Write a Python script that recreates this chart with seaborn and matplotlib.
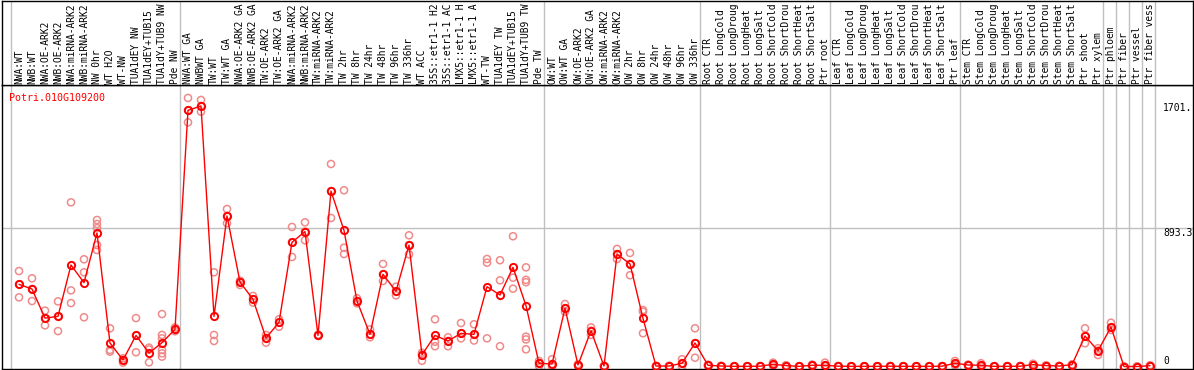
import numpy as np
import pandas as pd
import matplotlib
matplotlib.use("Agg")
import matplotlib.pyplot as plt
import seaborn as sns

# ---------------- data ----------------
gene = "Potri.010G109200"

# sample labels as shown (the header truncates long names)
labels = [
    "NWA:WT", "NWB:WT", "NWA:OE-ARK2", "NWB:OE-ARK2", "NWA:miRNA-ARK2", "NWB:miRNA-ARK2",
    "NW 0hr", "WT H2O", "WT-NW", "TUA1dEY NW", "TUA1dEY+TUB15", "TUA1dY+TUB9 NW", "Pde NW",
    "NWA:WT GA", "NWBWT GA", "TW:WT", "TW:WT GA", "NWA:OE-ARK2 GA", "NWB:OE-ARK2 GA",
    "TW:OE-ARK2", "TW:OE-ARK2 GA", "NWA:miRNA-ARK2", "NWB:miRNA-ARK2", "TW:miRNA-ARK2",
    "TW:miRNA-ARK2", "TW 2hr", "TW 8hr", "TW 24hr", "TW 48hr", "TW 96hr", "TW 336hr",
    "WT ACC", "35S::etr1-1 H2", "35S::etr1-1 AC", "LMX5::etr1-1 H", "LMX5::etr1-1 A",
    "WT-TW", "TUA1dEY TW", "TUA1dEY+TUB15", "TUA1dY+TUB9 TW", "Pde TW",
    "OW:WT", "OW:WT GA", "OW:OE-ARK2", "OW:OE-ARK2 GA", "OW:miRNA-ARK2", "OW:miRNA-ARK2",
    "OW 2hr", "OW 8hr", "OW 24hr", "OW 48hr", "OW 96hr", "OW 336hr",
    "Root CTR", "Root LongCold", "Root LongDroug", "Root LongHeat", "Root LongSalt",
    "Root ShortCold", "Root ShortDrou", "Root ShortHeat", "Root ShortSalt", "Ptr root",
    "Leaf CTR", "Leaf LongCold", "Leaf LongDroug", "Leaf LongHeat", "Leaf LongSalt",
    "Leaf ShortCold", "Leaf ShortDrou", "Leaf ShortHeat", "Leaf ShortSalt", "Ptr leaf",
    "Stem CTR", "Stem LongCold", "Stem LongDroug", "Stem LongHeat", "Stem LongSalt",
    "Stem ShortCold", "Stem ShortDrou", "Stem ShortHeat", "Stem ShortSalt", "Ptr shoot",
    "Ptr xylem", "Ptr phloem", "Ptr fiber", "Ptr vessel", "Ptr fiber vess",
]

means = [
    531, 501, 313, 324, 656, 542, 863, 152, 42, 201, 87, 154, 240,
    1656, 1684, 324, 973, 546, 434, 184, 285, 803, 872, 201, 1134, 880, 423, 208,
    596, 486, 785, 76, 201, 165, 214, 208, 516, 462, 641, 393, 21,
    16, 376, 10, 231, 3, 727, 663, 311, 3, 3, 21, 152,
    8, 3, 1, 1, 2, 14, 6, 1, 8, 8,
    2, 1, 1, 1, 2, 1, 1, 1, 2, 21,
    10, 8, 1, 1, 2, 12, 6, 3, 12, 197,
    102, 255, 0, 0, 5,
]

replicates = [
    [617, 531, 447], [570, 501, 423], [361, 313, 266], [421, 324, 229],
    [1061, 492, 410], [693, 609, 318], [947, 921, 895, 785, 753], [247, 107, 96],
    [53, 42, 25], [313, 201, 92], [122, 110, 27], [339, 204, 182, 107, 85, 64],
    [253, 240, 228],
    [1736, 1656, 1578], [1723, 1684, 1647], [609, 204, 165], [1018, 973, 926],
    [555, 546, 527], [456, 434, 413], [204, 184, 154], [305, 285, 257],
    [902, 803, 708], [932, 872, 816], [205, 201, 198], [1309, 1134, 960],
    [1139, 768, 727], [441, 423, 408], [240, 208, 189], [663, 596, 553],
    [516, 486, 460], [848, 785, 725], [89, 76, 37], [305, 160, 131],
    [189, 165, 131], [281, 214, 182], [273, 208, 168], [695, 671, 182],
    [687, 557, 131], [842, 574, 503], [641, 560, 545, 193, 175, 111], [36, 21, 3],
    [47, 16, 0], [404, 376, 354], [15, 10, 5], [253, 231, 204], [5, 3, 0],
    [760, 727, 695], [734, 663, 590], [365, 354, 215], [5, 3, 0], [5, 3, 0],
    [47, 21, 0], [247, 152, 57],
    [12, 8, 4], [5, 3, 1], [2, 1, 0], [2, 1, 0], [3, 2, 1], [25, 14, 5],
    [8, 6, 4], [2, 1, 0], [12, 8, 4], [25, 8, 2],
    [3, 2, 1], [2, 1, 0], [2, 1, 0], [2, 1, 0], [3, 2, 1], [2, 1, 0],
    [2, 1, 0], [2, 1, 0], [3, 2, 1], [36, 21, 8],
    [12, 10, 8], [21, 8, 0], [2, 1, 0], [2, 1, 0], [3, 2, 1], [18, 12, 6],
    [8, 6, 4], [3, 3, 3], [14, 12, 10], [247, 197, 150],
    [118, 102, 74], [283, 253, 236], [0, 0, 0], [0, 0, 0], [8, 5, 2],
]

group_starts = [0, 13, 41, 53, 63, 73, 84, 85, 86, 87, 88]
ref_values = [1701.9, 893.3, 0]
ref_texts = ["1701.", "893.3", "0"]

# ---------------- frames ----------------
idx = np.arange(len(labels))
mean_df = pd.DataFrame({"pos": idx, "value": means})
rep_df = pd.DataFrame(
    [(i, v) for i, reps in enumerate(replicates) for v in reps],
    columns=["pos", "value"],
)

# ---------------- figure ----------------
sns.set_theme(style="white")
plt.rcParams["font.family"] = ["DejaVu Sans Mono", "DejaVu Sans"]

W, H = 1194, 370
fig = plt.figure(figsize=(W / 100, H / 100), dpi=100)

left_px, right_px = 1.5, 1193.0
top_main, bot_main = 85.0, 368.5
x0_px, dx_px = 19.0, 13.0
zero_px, scale = 366.5, 0.1547

xlim = ((left_px - x0_px) / dx_px, (right_px - x0_px) / dx_px)

ax = fig.add_axes([left_px / W, (H - bot_main) / H,
                   (right_px - left_px) / W, (bot_main - top_main) / H])
hax = fig.add_axes([left_px / W, (H - top_main) / H,
                    (right_px - left_px) / W, (top_main - 0.5) / H])

ax.set_xlim(*xlim)
ax.set_ylim((zero_px - bot_main) / scale, (zero_px - top_main) / scale)
hax.set_xlim(*xlim)
hax.set_ylim(0, top_main - 0.5)

for a in (ax, hax):
    a.set_xticks([])
    a.set_yticks([])
    a.set_xlabel("")
    a.set_ylabel("")
    for s in a.spines.values():
        s.set_color("black")
        s.set_linewidth(1.0)
        s.set_visible(True)

# separators
for g in group_starts:
    xs = g - 8 / 13
    ax.axvline(xs, color="#c0c0c0", lw=1.0, zorder=0)
    hax.axvline(xs, color="#c0c0c0", lw=1.0, zorder=0)

ax.axhline(893.3, color="#c0c0c0", lw=1.0, zorder=0)

# replicates
sns.scatterplot(data=rep_df, x="pos", y="value", ax=ax, marker="o",
                s=26, facecolor="none", edgecolor="#f08a8a", linewidth=1.1,
                legend=False, zorder=2)
# means
sns.lineplot(data=mean_df, x="pos", y="value", ax=ax, color="#ff0000",
             linewidth=1.0, marker="o", markersize=5.2, markerfacecolor="none",
             markeredgecolor="#ff0000", markeredgewidth=1.4, legend=False,
             zorder=3)
ax.set_xlabel("")
ax.set_ylabel("")

# sample labels
for i, lab in enumerate(labels):
    hax.text(i, 1.2, lab, rotation=90, ha="center", va="bottom",
             fontsize=6.9, color="black")

# gene name
ax.text(-0.8, (zero_px - 93) / scale, gene, color="#ff0000", fontsize=7.2,
        ha="left", va="top")

# reference values
for v, t in zip(ref_values, ref_texts):
    va = "bottom" if v == 0 else "top"
    ax.text(88.0, v, t, fontsize=7.0, ha="left", va=va, color="black")

fig.savefig("out.png", dpi=100)
